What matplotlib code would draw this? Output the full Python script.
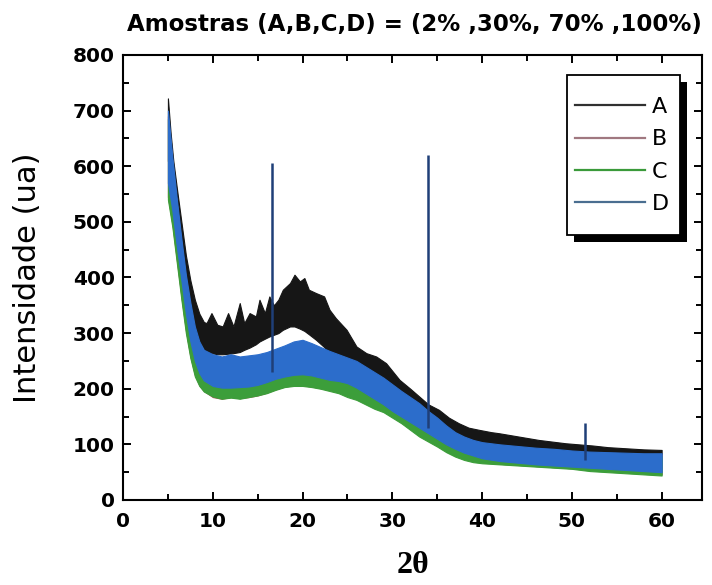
import matplotlib
matplotlib.use("Agg")
import matplotlib.pyplot as plt
from matplotlib.patches import Rectangle
from matplotlib.ticker import MultipleLocator

# ---- Sample A (2%): 2-theta positions and noise band (lower / upper envelope)
A_x = [5, 5.3, 5.6, 6, 6.5, 7, 7.5, 8, 8.5, 9, 9.3, 9.85, 10.5, 11.1, 11.7, 12.3, 13.0, 13.5, 14.1, 14.8,
       15.2, 15.8, 16.3, 16.8, 17.3, 17.8, 18.6, 19.1, 19.7, 20.2, 20.7, 21.5, 22.4, 23.0, 23.7, 24.9, 26.0,
       27.1, 28.2, 29.3, 30.8, 32, 33.0, 34, 35.2, 36.3, 37.4, 38.5, 39.7, 41, 41.9, 43, 44.1, 45.2, 46.3,
       47.8, 49.3, 50.8, 52.3, 54, 56, 58, 60]
A_hi = [722, 660, 610, 560, 500, 440, 395, 360, 335, 320, 318, 336, 315, 312, 336, 312, 354, 318, 336, 330,
        360, 336, 366, 350, 360, 378, 390, 405, 393, 399, 378, 372, 366, 342, 327, 306, 276,
        264, 258, 246, 216, 200, 186, 172, 162, 148, 138, 130, 126, 122, 120, 117, 114, 111, 108,
        105, 102, 100, 98, 95, 93, 91, 90]
A_lo = [610, 580, 540, 490, 430, 375, 335, 300, 285, 272, 266, 264, 262, 262, 263, 264, 266, 270, 274, 280,
        285, 290, 294, 297, 300, 306, 312, 312, 308, 304, 298, 288, 275, 262, 250, 235, 220,
        205, 195, 185, 170, 155, 145, 135, 122, 110, 100, 95, 90, 88, 86, 85, 83, 81, 79,
        76, 72, 70, 67, 64, 61, 59, 58]

# ---- Samples B, C, D (30%, 70%, 100%) share these positions
BCD_x = [5, 5.5, 6, 6.5, 7, 7.5, 8, 8.5, 9, 10, 11, 12, 13, 14, 15, 16, 17, 18, 19, 20,
         21, 22, 23, 24, 25, 26, 27, 28, 29, 30, 31, 32, 33, 34, 35, 36, 37, 38, 39, 40,
         42, 44, 46, 48, 50, 52, 54, 56, 58, 60]
B_hi = [690, 605, 530, 460, 395, 345, 302, 276, 262, 255, 252, 256, 252, 254, 256, 260, 266, 272, 278, 280,
        275, 268, 262, 256, 250, 244, 234, 224, 214, 202, 190, 179, 168, 154, 142, 128, 116, 108, 102, 98,
        95, 92, 90, 88, 86, 84, 83, 82, 81, 81]
B_lo = [545, 495, 430, 365, 305, 258, 225, 206, 196, 185, 182, 185, 183, 185, 188, 193, 199, 204, 206, 206,
        204, 201, 198, 194, 188, 182, 174, 166, 160, 150, 140, 128, 117, 107, 98, 88, 80, 74, 70, 68,
        65, 63, 61, 59, 57, 54, 52, 50, 48, 46]
C_hi = [685, 600, 525, 455, 390, 340, 298, 272, 258, 252, 250, 254, 250, 252, 254, 258, 264, 270, 276, 278,
        272, 266, 260, 254, 248, 242, 232, 222, 212, 200, 188, 177, 166, 152, 140, 126, 114, 106, 100, 96,
        93, 90, 88, 86, 84, 82, 81, 80, 79, 79]
C_lo = [540, 490, 425, 360, 300, 255, 222, 205, 195, 186, 182, 184, 182, 185, 188, 192, 198, 203, 205, 205,
        203, 200, 196, 192, 185, 180, 172, 164, 158, 148, 138, 126, 114, 105, 96, 86, 78, 72, 68, 66,
        64, 62, 60, 58, 56, 52, 50, 48, 46, 44]
D_hi = [700, 615, 540, 470, 405, 355, 312, 285, 270, 262, 258, 262, 258, 260, 262, 266, 272, 278, 285, 288,
        282, 275, 268, 262, 256, 250, 240, 230, 220, 208, 196, 185, 174, 160, 148, 134, 122, 114, 108, 104,
        100, 97, 94, 92, 89, 87, 86, 85, 84, 84]
D_lo = [570, 520, 455, 395, 335, 285, 250, 228, 215, 205, 202, 202, 203, 204, 207, 212, 218, 222, 225, 226,
        224, 220, 216, 214, 210, 202, 192, 182, 172, 160, 150, 140, 130, 120, 110, 100, 92, 85, 80, 75,
        70, 67, 64, 62, 60, 58, 56, 54, 52, 50]

# ---- Sharp reflections of sample D
spike_x = [16.6, 34.0, 51.5]
spike_base = [230, 130, 72]
spike_top = [605, 620, 139]

labels = ["A", "B", "C", "D"]
colors = ["#161616", "#b8505e", "#3c9e3a", "#2c6dcb"]
legend_colors = ["#303030", "#a07880", "#3a9a3a", "#4a6e90"]

plt.rcParams['font.family'] = ['DejaVu Sans']

fig = plt.figure(figsize=(7.12, 5.85), dpi=100)
ax = fig.add_axes([0.1728, 0.1453, 0.8132, 0.7607])

series = [(A_x, A_lo, A_hi), (BCD_x, B_lo, B_hi), (BCD_x, C_lo, C_hi), (BCD_x, D_lo, D_hi)]
for (xs, lo, hi), c, lab, lc in zip(series, colors, labels, legend_colors):
    ax.fill_between(xs, lo, hi, color=c, linewidth=0.8, edgecolor=c)
    ax.plot([], [], color=lc, lw=1.6, label=lab)

ax.vlines(spike_x, spike_base, spike_top, color="#1f3f78", lw=1.8, zorder=3)

ax.set_xlim(0, 64.5)
ax.set_ylim(0, 800)
ax.xaxis.set_major_locator(MultipleLocator(10))
ax.xaxis.set_minor_locator(MultipleLocator(5))
ax.yaxis.set_major_locator(MultipleLocator(100))
ax.yaxis.set_minor_locator(MultipleLocator(50))
ax.tick_params(which='both', direction='in', top=True, right=True, width=1.4)
ax.tick_params(which='major', length=6)
ax.tick_params(which='minor', length=4)
for lab in ax.get_xticklabels() + ax.get_yticklabels():
    lab.set_fontweight('bold')
    lab.set_fontsize(14.5)
ax.tick_params(axis='x', pad=9)
ax.tick_params(axis='y', pad=6)
for s in ax.spines.values():
    s.set_linewidth(1.5)

ax.set_ylabel("Intensidade (ua)", fontsize=22, labelpad=22)
ax.set_xlabel("2θ", fontsize=23, fontweight='bold', family=['Liberation Serif', 'DejaVu Serif'], labelpad=14)
ax.set_title("Amostras (A,B,C,D) = (2% ,30%, 70% ,100%)", fontsize=16.5, fontweight='bold', pad=17, x=0.504)

# legend frame with solid drop shadow
bx0, by0, bw, bh = 0.767, 0.5955, 0.195, 0.3595
ax.add_patch(Rectangle((bx0 + 0.0121, by0 - 0.0157), bw, bh, transform=ax.transAxes,
                       facecolor='black', edgecolor='none', zorder=5.5, clip_on=False))
ax.add_patch(Rectangle((bx0, by0), bw, bh, transform=ax.transAxes,
                       facecolor='white', edgecolor='black', lw=1.3, zorder=5.6, clip_on=False))

leg = ax.legend(loc='upper left', bbox_to_anchor=(0.7807, 0.905), frameon=False,
                fontsize=16, handlelength=3.15, handletextpad=0.3,
                labelspacing=0.55, borderpad=0, borderaxespad=0)
leg.set_zorder(6)

fig.savefig("out.png", dpi=100)
